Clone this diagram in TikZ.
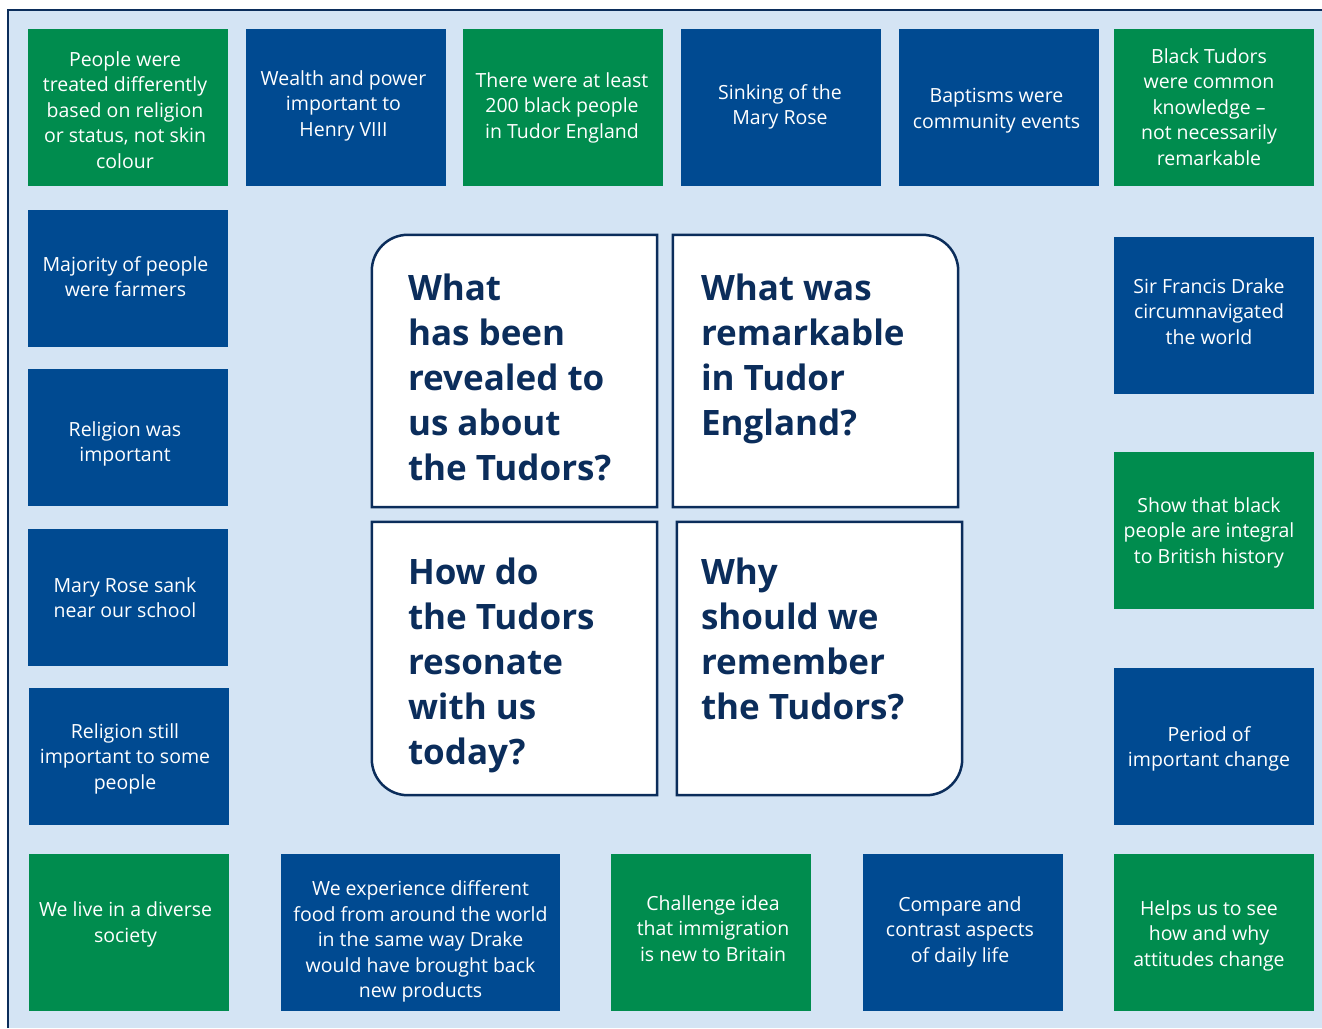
\documentclass[tikz,border=0pt]{standalone}
\usepackage{fontspec}
\setmainfont{Open Sans}
\usetikzlibrary{calc}

\definecolor{panelblue}{HTML}{D4E4F4}
\definecolor{tilegreen}{HTML}{008C4E}
\definecolor{tileblue}{HTML}{004A91}
\definecolor{navy}{HTML}{0B2D5B}

\tikzset{
  tile/.style={minimum width=200pt, minimum height=157pt, inner sep=0pt},
  greentile/.style={tile, fill=tilegreen},
  bluetile/.style={tile, fill=tileblue},
  tiletext/.style={inner sep=0pt, align=center, text=white,
    font=\fontsize{19.5}{25.5}\selectfont},
  qslot/.style={minimum width=285pt, minimum height=272pt, inner sep=0pt},
  qframe/.style={draw=navy, line width=2.5pt, fill=white},
  qtext/.style={anchor=north west, inner sep=0pt, align=left, text=navy,
    font=\bfseries\fontsize{35}{45}\selectfont}
}

\begin{document}
\begin{tikzpicture}[x=1pt, y=-1pt]
  \useasboundingbox (0,0) rectangle (1322,1028);
  \fill[white] (0,0) rectangle (1322,1028);
  % the panel
  \fill[panelblue] (8,10) rectangle (1322,1028);
  \draw[navy, line width=2.5pt] (8,1028) -- (8,10) -- (1322,10);

  % top row
  \node[greentile] (t1) at (128,107) {};
  \node[tiletext] (t1text) at ([shift={(-3,3)}]t1) {People were\\treated differently\\based on religion\\or status, not skin\\colour};
  \node[bluetile] (t2) at (346,107) {};
  \node[tiletext] (t2text) at ([shift={(-2.5,-1.5)}]t2) {Wealth and power\\important to\\Henry VIII};
  \node[greentile] (t3) at (563,107) {};
  \node[tiletext] (t3text) at ([shift={(-1,0.5)}]t3) {There were at least\\200 black people\\in Tudor England};
  \node[bluetile] (t4) at (781,107) {};
  \node[tiletext] (t4text) at ([shift={(-1,0)}]t4) {Sinking of the\\Mary Rose};
  \node[bluetile] (t5) at (999,107) {};
  \node[tiletext] (t5text) at ([shift={(-2.5,3.5)}]t5) {Baptisms were\\community events};
  \node[greentile] (t6) at (1214,107) {};
  \node[tiletext] (t6text) at ([shift={(-5,0)}]t6) {Black Tudors\\were common\\knowledge --\\not necessarily\\remarkable};

  % left column
  \node[bluetile, minimum height=137pt] (l1) at (128,278.5) {};
  \node[tiletext] (l1text) at ([shift={(-2.5,-2)}]l1) {Majority of people\\were farmers};
  \node[bluetile, minimum height=137pt] (l2) at (128,437.5) {};
  \node[tiletext] (l2text) at ([shift={(-3,6.5)}]l2) {Religion was\\important};
  \node[bluetile, minimum height=137pt] (l3) at (128,597.5) {};
  \node[tiletext] (l3text) at ([shift={(-3,0)}]l3) {Mary Rose sank\\near our school};
  \node[bluetile, minimum height=137pt] (l4) at (129,756.5) {};
  \node[tiletext] (l4text) at ([shift={(-4,2)}]l4) {Religion still\\important to some\\people};

  % right column
  \node[bluetile] (r1) at (1214,315.5) {};
  \node[tiletext] (r1text) at ([shift={(-5,-4)}]r1) {Sir Francis Drake\\circumnavigated\\the world};
  \node[greentile] (r2) at (1214,530.5) {};
  \node[tiletext] (r2text) at ([shift={(-5,2)}]r2) {Show that black\\people are integral\\to British history};
  \node[bluetile] (r3) at (1214,746.5) {};
  \node[tiletext] (r3text) at ([shift={(-5,2.5)}]r3) {Period of\\important change};

  % bottom row
  \node[greentile] (b1) at (129,932.5) {};
  \node[tiletext] (b1text) at ([shift={(-3.5,-8)}]b1) {We live in a diverse\\society};
  \node[bluetile, minimum width=279pt] (b2) at (420.5,932.5) {};
  \node[tiletext] (b2text) at ([shift={(0,9)}]b2) {We experience different\\food from around the world\\in the same way Drake\\would have brought back\\new products};
  \node[greentile] (b3) at (711,932.5) {};
  \node[tiletext] (b3text) at ([shift={(2,-4)}]b3) {Challenge idea\\that immigration\\is new to Britain};
  \node[bluetile] (b4) at (963,932.5) {};
  \node[tiletext] (b4text) at ([shift={(-3,-1)}]b4) {Compare and\\contrast aspects\\of daily life};
  \node[greentile] (b5) at (1214,932.5) {};
  \node[tiletext] (b5text) at ([shift={(-5,3)}]b5) {Helps us to see\\how and why\\attitudes change};

  % the four questions
  \node[qslot] (q1) at (514.5,371) {};
  \node[qslot] (q2) at (815.5,371) {};
  \node[qslot, minimum height=273pt] (q3) at (514.5,658.5) {};
  \node[qslot, minimum height=273pt] (q4) at (819.5,658.5) {};
  \draw[qframe] (q1.north east) -- ([xshift=36pt]q1.north west)
    arc[start angle=90, end angle=180, radius=36pt] -- (q1.south west) -- (q1.south east) -- cycle;
  \draw[qframe] (q2.north west) -- ([xshift=-36pt]q2.north east)
    arc[start angle=90, end angle=0, radius=36pt] -- (q2.south east) -- (q2.south west) -- cycle;
  \draw[qframe] (q3.north west) -- ([yshift=36pt]q3.south west)
    arc[start angle=180, end angle=270, radius=36pt] -- (q3.south east) -- (q3.north east) -- cycle;
  \draw[qframe] (q4.north west) -- (q4.north east) -- ([yshift=36pt]q4.south east)
    arc[start angle=0, end angle=-90, radius=36pt] -- (q4.south west) -- cycle;
  \node[qtext] (q1text) at ([xshift=36pt, yshift=-39pt]q1.north west) {What\\has been\\revealed to\\us about\\the Tudors?};
  \node[qtext] (q2text) at ([xshift=28pt, yshift=-39pt]q2.north west) {What was\\remarkable\\in Tudor\\England?};
  \node[qtext] (q3text) at ([xshift=36pt, yshift=-36pt]q3.north west) {How do\\the Tudors\\resonate\\with us\\today?};
  \node[qtext] (q4text) at ([xshift=24pt, yshift=-36pt]q4.north west) {Why\\should we\\remember\\the Tudors?};
\end{tikzpicture}
\end{document}
